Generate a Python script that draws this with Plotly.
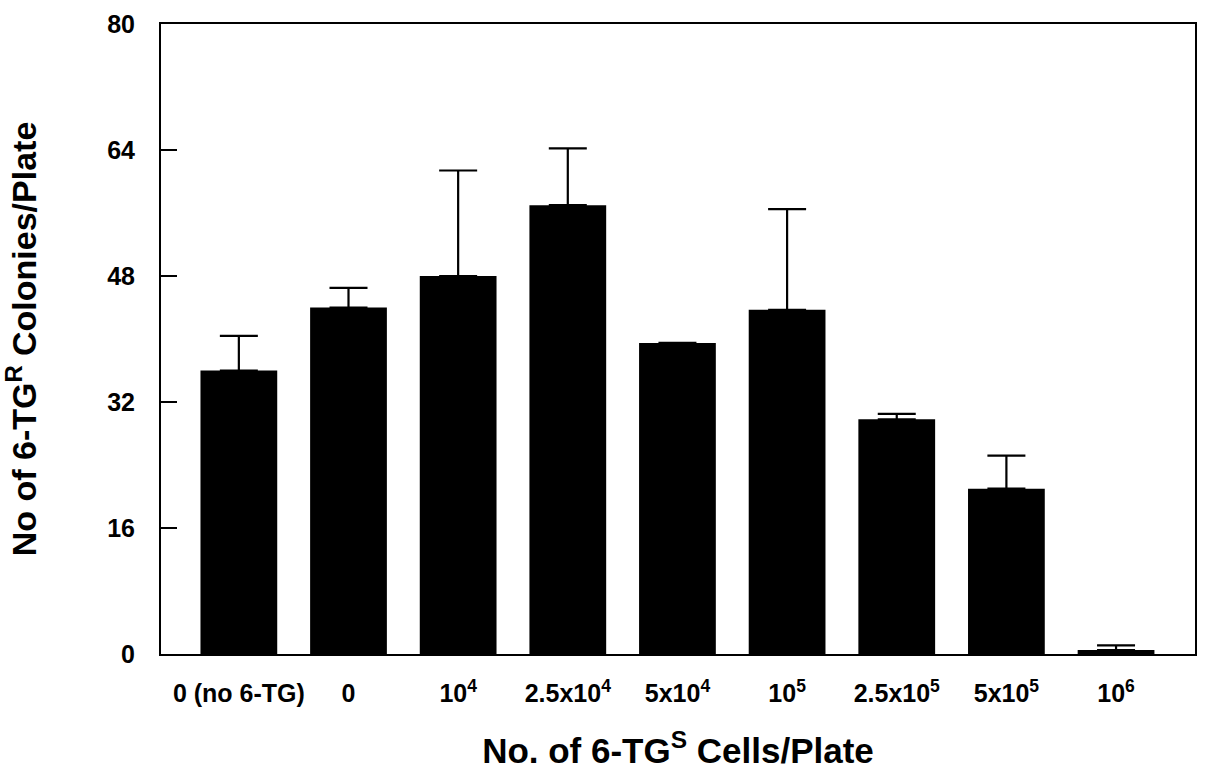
import plotly.graph_objects as go

categories = ["0 (no 6-TG)", "0", "10<sup>4</sup>", "2.5x10<sup>4</sup>", "5x10<sup>4</sup>",
              "10<sup>5</sup>", "2.5x10<sup>5</sup>", "5x10<sup>5</sup>", "10<sup>6</sup>"]
colonies = [36.0, 44.0, 48.0, 57.0, 39.5, 43.7, 29.8, 21.0, 0.5]
errors = [4.4, 2.5, 13.4, 7.2, 0.0, 12.8, 0.7, 4.2, 0.6]
y_ticks = [0, 16, 32, 48, 64, 80]

FONT = "Liberation Sans, Arial, sans-serif"

fig = go.Figure()
fig.add_trace(go.Bar(
    x=list(range(len(categories))),
    y=colonies,
    width=0.7,
    marker=dict(color="black", line=dict(width=0)),
    error_y=dict(type="data", array=errors, symmetric=False, arrayminus=[0]*len(errors),
                 color="black", thickness=2.2, width=19, visible=True),
    showlegend=False,
))

fig.update_layout(
    width=1207, height=778,
    margin=dict(l=161, r=10, t=18, b=124),
    paper_bgcolor="white", plot_bgcolor="white",
    font=dict(family=FONT, color="black"),
    xaxis=dict(
        range=[-0.71, 8.72],
        tickmode="array",
        tickvals=list(range(len(categories))),
        ticktext=[f"<b>{c}</b>" for c in categories],
        tickfont=dict(size=25, family=FONT, color="black"),
        ticks="", showgrid=False, zeroline=False,
        showline=True, linecolor="black", linewidth=2, mirror=True,
        ticklabelstandoff=16,
        title=dict(text="<b>No. of 6-TG<sup>S</sup> Cells/Plate</b>",
                   font=dict(size=35, family=FONT, color="black"), standoff=32),
    ),
    yaxis=dict(
        range=[0, 80],
        tickmode="array",
        tickvals=y_ticks,
        ticktext=[f"<b>{v}</b>" for v in y_ticks],
        tickfont=dict(size=25, family=FONT, color="black"),
        ticks="inside", ticklen=16, tickwidth=2, tickcolor="black",
        showgrid=False, zeroline=False,
        showline=True, linecolor="black", linewidth=2, mirror=True,
        ticklabelstandoff=19,
        title=dict(text="<b>No of 6-TG<sup>R</sup> Colonies/Plate</b>",
                   font=dict(size=34, family=FONT, color="black"), standoff=63),
    ),
)

fig.write_html("out.html")
